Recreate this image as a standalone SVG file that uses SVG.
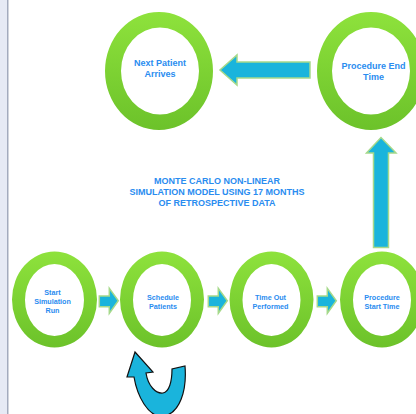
<svg xmlns="http://www.w3.org/2000/svg" width="416" height="414" viewBox="0 0 416 414">
<defs>
<linearGradient id="g" x1="0" y1="0" x2="0" y2="1">
<stop offset="0" stop-color="#8ee23c"/>
<stop offset="1" stop-color="#6cc22a"/>
</linearGradient>
<style>
.ring{fill:url(#g);fill-rule:evenodd}
.t{font-family:"Liberation Sans",Arial,sans-serif;font-weight:bold;fill:#2a8cf0;text-anchor:middle}
.big{font-size:9px}
.sm{font-size:7.2px}
.arr{fill:#1ab4dc;stroke:#a6d98a;stroke-width:1.5;stroke-linejoin:miter}
</style>
</defs>
<rect width="416" height="414" fill="#ffffff"/>
<rect x="0" y="0" width="7" height="414" fill="#e6eaf5"/>
<rect x="7" y="0" width="1.5" height="414" fill="#a3abbe"/>

<g id="connectors">
<polygon class="arr" points="310,62 237,62 237,55 220,70 237,85 237,78 310,78"/>
<polygon class="arr" points="373.5,247.5 373.5,153 366.5,153 381,137.5 396,153 388.5,153 388.5,247.5"/>
<polygon class="arr" points="99.3,296 109.3,296 109.3,288.3 118.3,300.7 109.3,313.3 109.3,306.7 99.3,306.7"/>
<polygon class="arr" points="208.3,296 218.3,296 218.3,288.3 227.3,300.7 218.3,313.3 218.3,306.7 208.3,306.7"/>
<polygon class="arr" points="317.3,296 327.3,296 327.3,288.3 336.3,300.7 327.3,313.3 327.3,306.7 317.3,306.7"/>
<path d="M135,352 L153,372 L146,373 C148,386 156,394 163,393 C169,392 172,382 172,369 L185,366 C187,390 180,414 163,416 C148,418 137,395 134,377 L127,377 Z" fill="#1ab4dc" stroke="#111" stroke-width="1.2" stroke-linejoin="miter"/>
</g>

<g id="next-patient">
<path class="ring" d="M105,71 a54,59 0 1,0 108,0 a54,59 0 1,0 -108,0 Z M121,71 a39,43.5 0 1,0 78,0 a39,43.5 0 1,0 -78,0 Z"/>
<text class="t big" x="160" y="66">Next Patient</text>
<text class="t big" x="160" y="77">Arrives</text>
</g>

<g id="procedure-end">
<path class="ring" d="M317,71 a54,59 0 1,0 108,0 a54,59 0 1,0 -108,0 Z M332,71 a39,43.5 0 1,0 78,0 a39,43.5 0 1,0 -78,0 Z"/>
<text class="t big" x="373.5" y="69">Procedure End</text>
<text class="t big" x="373.5" y="79.5">Time</text>
</g>

<g id="title">
<text class="t big" x="217" y="183.5">MONTE CARLO NON-LINEAR</text>
<text class="t big" x="217" y="194.5">SIMULATION MODEL USING 17 MONTHS</text>
<text class="t big" x="217" y="205.5">OF RETROSPECTIVE DATA</text>
</g>

<g id="start">
<path class="ring" d="M12,299.5 a42.5,48 0 1,0 85,0 a42.5,48 0 1,0 -85,0 Z M25,300 a29.5,36 0 1,0 59,0 a29.5,36 0 1,0 -59,0 Z"/>
<text class="t sm" x="52.5" y="295">Start</text>
<text class="t sm" x="52.5" y="303.8">Simulation</text>
<text class="t sm" x="52.5" y="312.5">Run</text>
</g>

<g id="schedule">
<path class="ring" d="M120,299.5 a42,48 0 1,0 84,0 a42,48 0 1,0 -84,0 Z M133,300 a29,36 0 1,0 58,0 a29,36 0 1,0 -58,0 Z"/>
<text class="t sm" x="163" y="300.3">Schedule</text>
<text class="t sm" x="163" y="309.3">Patients</text>
</g>

<g id="timeout">
<path class="ring" d="M229.5,299.5 a42,48 0 1,0 84,0 a42,48 0 1,0 -84,0 Z M242.5,300 a29,36 0 1,0 58,0 a29,36 0 1,0 -58,0 Z"/>
<text class="t sm" x="270.5" y="300.3">Time Out</text>
<text class="t sm" x="270.5" y="309.3">Performed</text>
</g>

<g id="procedure-start">
<path class="ring" d="M340,299.5 a42,48 0 1,0 84,0 a42,48 0 1,0 -84,0 Z M353,300 a29,36 0 1,0 58,0 a29,36 0 1,0 -58,0 Z"/>
<text class="t sm" x="382" y="300.3">Procedure</text>
<text class="t sm" x="382" y="309.3">Start Time</text>
</g>
</svg>
